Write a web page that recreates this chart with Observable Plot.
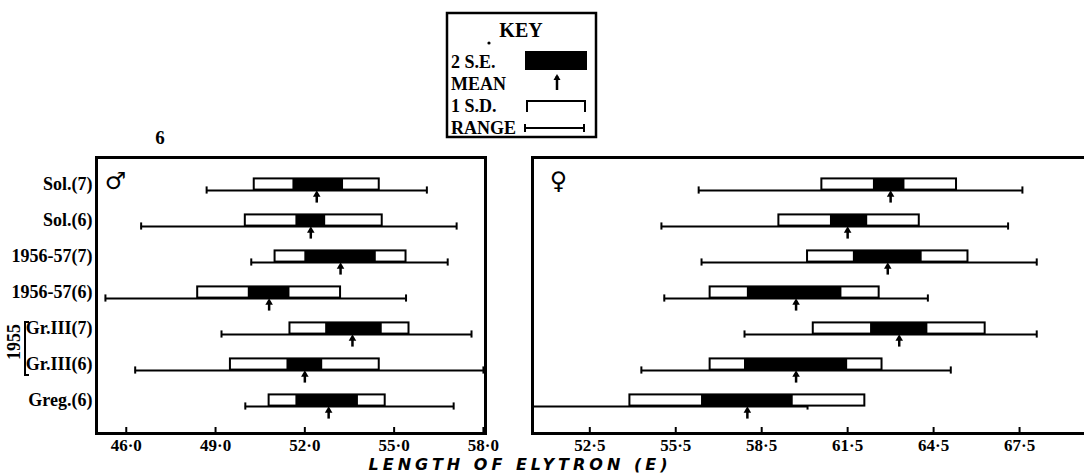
<!DOCTYPE html>
<html>
<head>
<meta charset="utf-8">
<script src="https://cdn.jsdelivr.net/npm/d3@7"></script>
<script src="https://cdn.jsdelivr.net/npm/@observablehq/plot@0.6"></script>
<style>
  html, body { margin: 0; padding: 0; background: #fff; }
  #wrap { position: relative; width: 1084px; height: 474px; overflow: hidden; background: #fff; }
  #wrap > svg, #wrap > figure { position: absolute; margin: 0; }
  .f { font-family: "Liberation Serif", "DejaVu Serif", serif; font-weight: bold; }
</style>
</head>
<body>
<div id="wrap"></div>
<script>
// ---- data ----
const rows = ["Sol.(7)", "Sol.(6)", "1956-57(7)", "1956-57(6)", "Gr.III(7)", "Gr.III(6)", "Greg.(6)"];

// males (length of elytron)
const maleMin  = [48.7, 46.5, 50.2, 45.3, 49.2, 46.3, 50.0];
const maleMax  = [56.1, 57.1, 56.8, 55.4, 57.6, 58.0, 57.0];
const maleSdLo = [50.3, 50.0, 51.0, 48.4, 51.5, 49.5, 50.8];
const maleSdHi = [54.5, 54.6, 55.4, 53.2, 55.5, 54.5, 54.7];
const maleSeLo = [51.6, 51.7, 52.0, 50.1, 52.7, 51.4, 51.7];
const maleSeHi = [53.3, 52.7, 54.4, 51.5, 54.6, 52.6, 53.8];
const maleMean = [52.4, 52.2, 53.2, 50.8, 53.6, 52.0, 52.8];

// females
const femMin  = [56.3, 55.0, 56.4, 55.1, 57.9, 54.3, 50.5];
const femMax  = [67.6, 67.1, 68.1, 64.3, 68.1, 65.1, 60.1];
const femSdLo = [60.6, 59.1, 60.1, 56.7, 60.3, 56.7, 53.9];
const femSdHi = [65.3, 64.0, 65.7, 62.6, 66.3, 62.7, 62.1];
const femSeLo = [62.4, 60.9, 61.7, 58.0, 62.3, 57.9, 56.4];
const femSeHi = [63.5, 62.2, 64.1, 61.3, 64.3, 61.5, 59.6];
const femMean = [63.0, 61.5, 62.9, 59.7, 63.3, 59.7, 58.0];

const maleTicks = [46, 49, 52, 55, 58];
const maleTickLabels = ["46·0", "49·0", "52·0", "55·0", "58·0"];
const femTicks = [52.5, 55.5, 58.5, 61.5, 64.5, 67.5];
const femTickLabels = ["52·5", "55·5", "58·5", "61·5", "64·5", "67·5"];

// ---- build ----
const FONT = '"Liberation Serif", "DejaVu Serif", serif';
function table(mn, mx, sdLo, sdHi, seLo, seHi, mean) {
  return rows.map((label, i) => ({label, min: mn[i], max: mx[i], sdLo: sdLo[i], sdHi: sdHi[i], seLo: seLo[i], seHi: seHi[i], mean: mean[i]}));
}
const maleData = table(maleMin, maleMax, maleSdLo, maleSdHi, maleSeLo, maleSeHi, maleMean);
const femData = table(femMin, femMax, femSdLo, femSdHi, femSeLo, femSeHi, femMean);

const Y_RANGE = [169.6, 427.4];
const HALF = (Y_RANGE[1] - Y_RANGE[0]) / rows.length / 2;
const MT = 157, MB = 41, H = 474;
const FRAME_H = H - MT - MB;

function panel(data, {width, marginLeft, marginRight, domain, ticks, tickLabels, sex, sexDx, labels}) {
  const fmt = d => tickLabels[ticks.indexOf(d)] ?? "";
  const marks = [
    Plot.ruleY(data, {y: "label", x1: "min", x2: "max", stroke: "black", strokeWidth: 2}),
    Plot.tickX(data, {x: "min", y: "label", insetTop: HALF - 4, insetBottom: HALF - 4, stroke: "black", strokeWidth: 2}),
    Plot.tickX(data, {x: "max", y: "label", insetTop: HALF - 4, insetBottom: HALF - 4, stroke: "black", strokeWidth: 2}),
    Plot.barX(data, {y: "label", x1: "sdLo", x2: "sdHi", insetTop: HALF - 12, insetBottom: HALF, fill: "white", stroke: "black", strokeWidth: 2}),
    Plot.barX(data, {y: "label", x1: "seLo", x2: "seHi", insetTop: HALF - 12, insetBottom: HALF, fill: "black"}),
    Plot.tickX(data, {x: "mean", y: "label", insetTop: HALF + 3, insetBottom: HALF - 13, stroke: "black", strokeWidth: 2.5}),
    Plot.dot(data, {x: "mean", y: "label", symbol: "triangle", r: 2.8, fill: "black", dy: 4}),
    Plot.tickX(ticks, {x: d => d, insetTop: FRAME_H - 6, stroke: "black", strokeWidth: 2}),
    Plot.text([sex], {text: d => d, frameAnchor: "top-left", textAnchor: "middle", lineAnchor: "middle", dx: sexDx, dy: 24, fontSize: 24, fontWeight: "normal", fontFamily: "DejaVu Sans"}),
    Plot.frame({stroke: "black", strokeWidth: 3})
  ];
  if (labels) {
    marks.push(Plot.text(data, {y: "label", text: "label", frameAnchor: "left", textAnchor: "end", dx: -4, dy: -6, fontSize: 18, fontWeight: "bold", fontFamily: FONT}));
  }
  return Plot.plot({
    width, height: H,
    marginLeft, marginRight, marginTop: MT, marginBottom: MB,
    style: {background: "transparent", fontFamily: FONT, fontSize: "17px", fontWeight: "bold", color: "black", overflow: "visible"},
    x: {domain, ticks, tickFormat: fmt, tickSize: 0, tickPadding: 5, label: null},
    y: {type: "band", domain: rows, range: Y_RANGE, padding: 0, axis: null},
    marks
  });
}

const wrap = document.getElementById("wrap");

const left = panel(maleData, {
  width: 500, marginLeft: 96, marginRight: 15, domain: [45.0, 58.07],
  ticks: maleTicks, tickLabels: maleTickLabels, sex: "♂", sexDx: 19, labels: true
});
left.style.left = "0px"; left.style.top = "0px";
wrap.appendChild(left);

const right = panel(femData, {
  width: 585, marginLeft: 12, marginRight: 0, domain: [50.5, 70.5],
  ticks: femTicks, tickLabels: femTickLabels, sex: "♀", sexDx: 26, labels: false
});
right.style.left = "520px"; right.style.top = "0px";
wrap.appendChild(right);

// ---- key, annotations and axis title (overlay) ----
const NS = "http://www.w3.org/2000/svg";
const ov = document.createElementNS(NS, "svg");
ov.setAttribute("width", 1084); ov.setAttribute("height", 474);
ov.style.left = "0px"; ov.style.top = "0px"; ov.style.pointerEvents = "none";
ov.innerHTML = `
  <g class="f" fill="black" font-size="18">
    <rect x="447" y="13" width="149" height="124" fill="none" stroke="black" stroke-width="2.5"/>
    <text x="521" y="30" text-anchor="middle" dominant-baseline="central" font-size="20">KEY</text>
    <circle cx="489" cy="43" r="1.6"/>
    <text x="451" y="62" dominant-baseline="central">2 S.E.</text>
    <rect x="525" y="51" width="62" height="19"/>
    <text x="451" y="84" dominant-baseline="central">MEAN</text>
    <line x1="557" y1="76" x2="557" y2="90" stroke="black" stroke-width="2.5"/>
    <path d="M553.5,80 L557,74 L560.5,80 Z"/>
    <text x="451" y="106" dominant-baseline="central">1 S.D.</text>
    <path d="M527,112 V101 H585 V112" fill="none" stroke="black" stroke-width="2"/>
    <text x="451" y="128" dominant-baseline="central">RANGE</text>
    <path d="M525,128 H584 M525,124 V132 M584,124 V132" fill="none" stroke="black" stroke-width="2"/>
    <text x="160" y="137" text-anchor="middle" dominant-baseline="central" font-size="19">6</text>
    <text transform="translate(14,342) rotate(-90)" text-anchor="middle" dominant-baseline="central" font-size="18">1955</text>
    <path d="M29,322 H25 V375 H29" fill="none" stroke="black" stroke-width="2"/>
    <text x="520" y="464" text-anchor="middle" dominant-baseline="central" font-family="DejaVu Sans, sans-serif" font-style="italic" font-weight="bold" font-size="16" letter-spacing="4">LENGTH OF ELYTRON (E)</text>
  </g>`;
wrap.appendChild(ov);
</script>
</body>
</html>
